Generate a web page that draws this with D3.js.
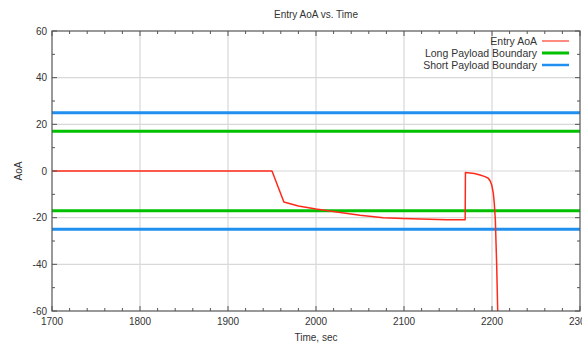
<!DOCTYPE html>
<html><head><meta charset="utf-8">
<script src="https://cdn.jsdelivr.net/npm/d3@7"></script>
<style>body{margin:0;background:#fff}svg{display:block;font-family:"Liberation Sans",Arial,sans-serif}</style>
</head><body>
<svg id="c" width="582" height="344"></svg>
<script>
const title = "Entry AoA vs. Time";
const xLabel = "Time, sec";
const yLabel = "AoA";
const xTicks = [1700, 1800, 1900, 2000, 2100, 2200, 2300];
const yTicks = [-60, -40, -20, 0, 20, 40, 60];
const aoaTime = [1700, 1950, 1963.5, 1980, 2000, 2023.5, 2050, 2076.5, 2099, 2148.5, 2169.5, 2169.8, 2180, 2186.4, 2192, 2195.8, 2198, 2199.7, 2201.5, 2202.6, 2203.8, 2205.3, 2206.5];
const aoaValue = [0, 0, -13.3, -15.0, -16.3, -17.6, -19, -20, -20.4, -20.9, -20.9, -0.6, -1.1, -1.7, -2.4, -3.1, -4.3, -6, -9.6, -13.9, -21, -40, -60];
const seriesNames = ["Entry AoA", "Long Payload Boundary", "Short Payload Boundary"];
const longBoundary = [17, -17];
const shortBoundary = [25, -25];

const svg = d3.select("#c");
const L = 52, R = 580, T = 31, B = 311;
const x = d3.scaleLinear().domain([1700, 2300]).range([L, R]);
const y = d3.scaleLinear().domain([-60, 60]).range([B, T]);

const axisCol = "#555", gridCol = "#d8d8d8", textCol = "#333";

svg.append("g").selectAll("line").data(xTicks.slice(1, -1)).join("line")
  .attr("x1", d => x(d)).attr("x2", d => x(d)).attr("y1", T).attr("y2", B)
  .attr("stroke", gridCol).attr("stroke-width", 1.2);
svg.append("g").selectAll("line").data(yTicks.slice(1, -1)).join("line")
  .attr("x1", L).attr("x2", R).attr("y1", d => y(d)).attr("y2", d => y(d))
  .attr("stroke", gridCol).attr("stroke-width", 1.2);

const plot = svg.append("g");
shortBoundary.forEach(v => plot.append("line").attr("x1", L).attr("x2", R)
  .attr("y1", y(v)).attr("y2", y(v)).attr("stroke", "#2090f0").attr("stroke-width", 3));
longBoundary.forEach(v => plot.append("line").attr("x1", L).attr("x2", R)
  .attr("y1", y(v)).attr("y2", y(v)).attr("stroke", "#00c000").attr("stroke-width", 3));

const pts = aoaTime.map((t, i) => [t, aoaValue[i]]);
plot.append("path").datum(pts)
  .attr("d", d3.line().x(d => x(d[0])).y(d => y(d[1])))
  .attr("fill", "none").attr("stroke", "#ff2a1a").attr("stroke-width", 1.5)
  .attr("stroke-linejoin", "round");

const xMinor = d3.range(1700, 2301, 20);
const yMinor = d3.range(-60, 61, 10);
const ax = svg.append("g").attr("stroke", axisCol);
ax.append("rect").attr("x", L).attr("y", T).attr("width", R - L).attr("height", B - T)
  .attr("fill", "none").attr("stroke-width", 1.2);
xMinor.forEach(v => {
  const len = v % 100 === 0 ? 5 : 3;
  ax.append("line").attr("x1", x(v)).attr("x2", x(v)).attr("y1", B).attr("y2", B - len);
  ax.append("line").attr("x1", x(v)).attr("x2", x(v)).attr("y1", T).attr("y2", T + len);
});
yMinor.forEach(v => {
  const len = v % 20 === 0 ? 5 : 3;
  ax.append("line").attr("x1", L).attr("x2", L + len).attr("y1", y(v)).attr("y2", y(v));
  ax.append("line").attr("x1", R).attr("x2", R - len).attr("y1", y(v)).attr("y2", y(v));
});

svg.append("g").selectAll("text").data(xTicks).join("text")
  .attr("x", d => x(d)).attr("y", 325).attr("text-anchor", "middle")
  .attr("font-size", 10).attr("fill", textCol).text(d => d);
svg.append("g").selectAll("text").data(yTicks).join("text")
  .attr("x", 47).attr("y", d => y(d) + 3.5).attr("text-anchor", "end")
  .attr("font-size", 10).attr("fill", textCol).text(d => d);

svg.append("text").attr("x", (L + R) / 2).attr("y", 18).attr("text-anchor", "middle")
  .attr("font-size", 10).attr("fill", textCol).text(title);
svg.append("text").attr("x", (L + R) / 2).attr("y", 341).attr("text-anchor", "middle")
  .attr("font-size", 10).attr("fill", textCol).text(xLabel);
svg.append("text").attr("transform", `translate(22,${y(0)}) rotate(-90)`).attr("text-anchor", "middle")
  .attr("font-size", 10).attr("fill", textCol).text(yLabel);

const legCols = ["#ff8a80", "#00c000", "#2090f0"];
const legW = [2, 3, 2.5];
seriesNames.forEach((n, i) => {
  const yy = 41 + i * 12;
  svg.append("text").attr("x", 537).attr("y", yy + 3.5).attr("text-anchor", "end")
    .attr("font-size", 10.5).attr("fill", textCol).text(n);
  svg.append("line").attr("x1", 542).attr("x2", 569).attr("y1", yy).attr("y2", yy)
    .attr("stroke", legCols[i]).attr("stroke-width", legW[i]);
});
</script>
</body></html>
